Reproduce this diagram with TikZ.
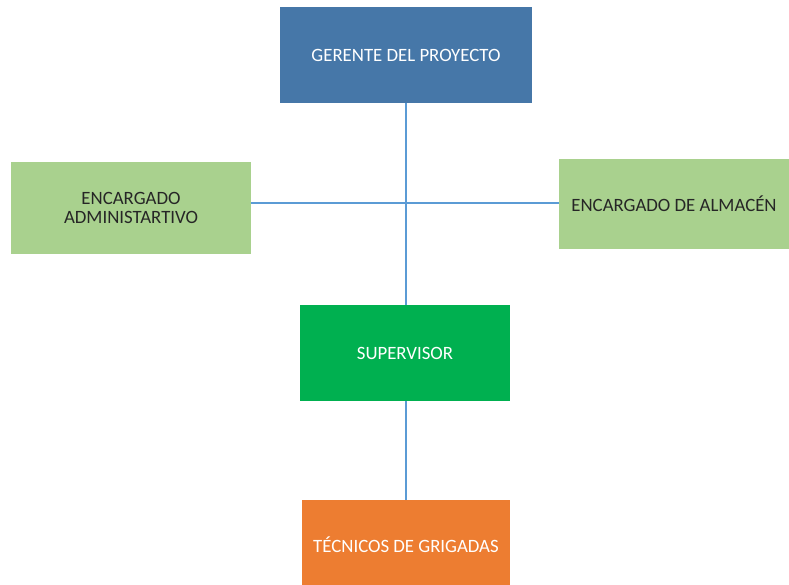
\documentclass[tikz,border=0pt]{standalone}
\usepackage{fontspec}
\setmainfont{Carlito}
\begin{document}
\begin{tikzpicture}[x=1pt,y=-1pt,
  box/.style={draw=none,inner sep=0pt,align=center,font=\fontsize{18.8}{18.5}\selectfont},
  link/.style={draw=lineblue,line width=1.1pt}]
\definecolor{gblue}{HTML}{4677A8}
\definecolor{lgreen}{HTML}{A9D18E}
\definecolor{sgreen}{HTML}{00B050}
\definecolor{orng}{HTML}{ED7D31}
\definecolor{lineblue}{HTML}{5B9BD5}
\definecolor{dtext}{HTML}{262626}
\useasboundingbox (0,0) rectangle (789,585);
\fill[white] (0,0) rectangle (789,585);
% boxes
\node[box,fill=gblue,text=white,minimum width=252pt,minimum height=96pt] (ger) at (406,55) {GERENTE DEL PROYECTO};
\node[box,fill=lgreen,text=dtext,minimum width=240pt,minimum height=92pt] (adm) at (131,208) {ENCARGADO\\ADMINISTARTIVO};
\node[box,fill=lgreen,text=dtext,minimum width=230pt,minimum height=90pt] (alm) at (674,204) {ENCARGADO DE ALMACÉN};
\node[box,fill=sgreen,text=white,minimum width=210pt,minimum height=96pt] (sup) at (405,353) {SUPERVISOR};
\node[box,fill=orng,text=white,minimum width=208pt,minimum height=90pt] (tec) at (406,545) {TÉCNICOS DE GRIGADAS};
\coordinate (j) at (406,203);
% connectors
\draw[link] (ger.south -| j) -- (sup.north -| j);
\draw[link] (adm.east |- j) -- (alm.west |- j);
\draw[link] (sup.south -| j) -- (tec.north -| j);
\end{tikzpicture}
\end{document}
